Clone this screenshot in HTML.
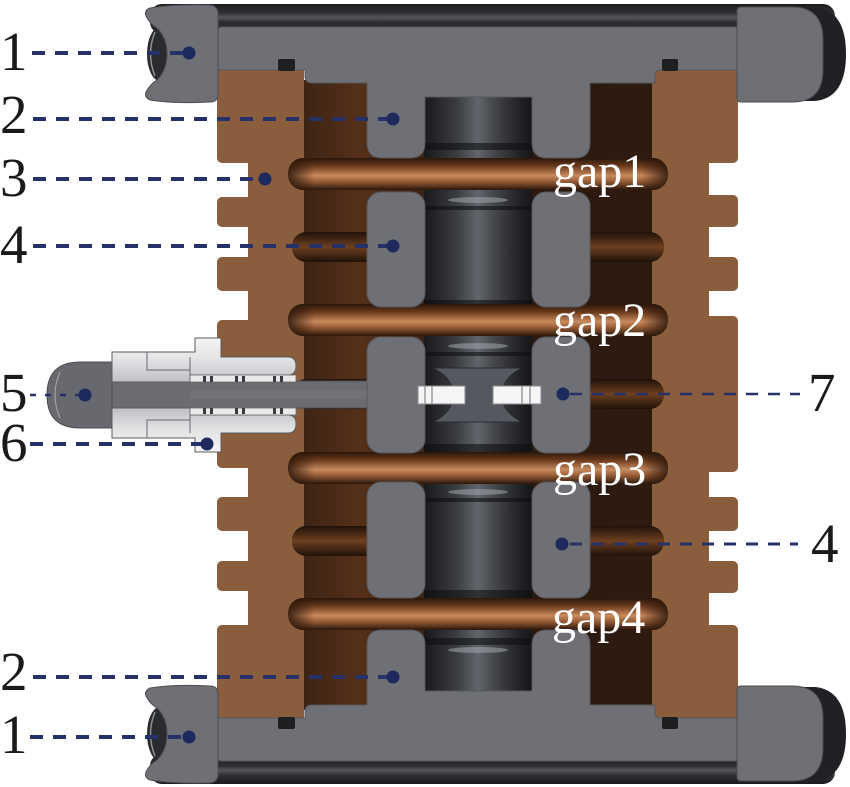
<!DOCTYPE html>
<html><head><meta charset="utf-8"><style>
html,body{margin:0;padding:0;background:#fff;}
svg{display:block;}
</style></head><body>
<svg width="850" height="787" viewBox="0 0 850 787" xmlns="http://www.w3.org/2000/svg">
<defs>
 <linearGradient id="cav" x1="0" y1="0" x2="1" y2="0">
  <stop offset="0" stop-color="#3b2214"/><stop offset="0.17" stop-color="#553019"/>
  <stop offset="0.5" stop-color="#2a180e"/><stop offset="1" stop-color="#2e1b10"/>
 </linearGradient>
 <linearGradient id="cu" x1="0" y1="0" x2="0" y2="1">
  <stop offset="0" stop-color="#2a160b"/><stop offset="0.25" stop-color="#6a3a1c"/>
  <stop offset="0.55" stop-color="#c98a5e"/><stop offset="0.72" stop-color="#9a6038"/>
  <stop offset="1" stop-color="#2a160b"/>
 </linearGradient>
 <linearGradient id="cu2" x1="0" y1="0" x2="0" y2="1">
  <stop offset="0" stop-color="#1f1108"/><stop offset="0.5" stop-color="#6e3f20"/>
  <stop offset="1" stop-color="#1f1108"/>
 </linearGradient>
 <linearGradient id="cuend" x1="0" y1="0" x2="1" y2="0">
  <stop offset="0" stop-color="#2a160b" stop-opacity="0.85"/><stop offset="0.07" stop-color="#2a160b" stop-opacity="0"/>
  <stop offset="0.93" stop-color="#2a160b" stop-opacity="0"/><stop offset="1" stop-color="#2a160b" stop-opacity="0.85"/>
 </linearGradient>
 <linearGradient id="cyl" x1="0" y1="0" x2="1" y2="0">
  <stop offset="0" stop-color="#18191b"/><stop offset="0.3" stop-color="#3a3c40"/>
  <stop offset="0.5" stop-color="#62656b"/><stop offset="0.62" stop-color="#4a4c51"/>
  <stop offset="0.85" stop-color="#26272a"/><stop offset="1" stop-color="#151618"/>
 </linearGradient>
 <linearGradient id="strip" x1="0" y1="0" x2="0" y2="1">
  <stop offset="0" stop-color="#1a1b1d"/><stop offset="0.3" stop-color="#2f3134"/>
  <stop offset="0.45" stop-color="#55575b"/><stop offset="0.6" stop-color="#2f3033"/>
  <stop offset="1" stop-color="#1a1b1d"/>
 </linearGradient>
 <linearGradient id="silver" x1="0" y1="0" x2="0" y2="1">
  <stop offset="0" stop-color="#f4f4f5"/><stop offset="0.5" stop-color="#e2e3e5"/>
  <stop offset="1" stop-color="#bfc0c3"/>
 </linearGradient>
 <linearGradient id="silver2" x1="0" y1="1" x2="0" y2="0">
  <stop offset="0" stop-color="#f4f4f5"/><stop offset="0.5" stop-color="#e2e3e5"/>
  <stop offset="1" stop-color="#bfc0c3"/>
 </linearGradient>
</defs>

<!-- cavity -->
<rect x="298" y="80" width="360" height="630" fill="url(#cav)"/>

<!-- brown left column -->
<g fill="#8a5e3c">
 <rect x="248" y="66" width="56" height="657"/>
 <rect x="217" y="66" width="40" height="97" rx="5"/>
 <rect x="217" y="197" width="40" height="30" rx="5"/>
 <rect x="217" y="257" width="40" height="34" rx="5"/>
 <rect x="217" y="320" width="40" height="148" rx="5"/>
 <rect x="217" y="497" width="40" height="34" rx="5"/>
 <rect x="217" y="561" width="40" height="30" rx="5"/>
 <rect x="217" y="625" width="40" height="98" rx="5"/>
</g>
<!-- brown right column -->
<g fill="#8a5e3c">
 <rect x="652" y="66" width="57" height="657"/>
 <rect x="698" y="66" width="40" height="97" rx="5"/>
 <rect x="698" y="195" width="40" height="32" rx="5"/>
 <rect x="698" y="257" width="40" height="34" rx="5"/>
 <rect x="698" y="316" width="40" height="156" rx="5"/>
 <rect x="698" y="497" width="40" height="34" rx="5"/>
 <rect x="698" y="561" width="40" height="32" rx="5"/>
 <rect x="698" y="625" width="40" height="98" rx="5"/>
</g>

<!-- back coils -->
<g>
 <rect x="292" y="232" width="372" height="30" rx="14" fill="url(#cu2)"/>
 <rect x="292" y="379" width="372" height="30" rx="14" fill="url(#cu2)"/>
 <rect x="292" y="526" width="372" height="30" rx="14" fill="url(#cu2)"/>
</g>

<!-- center cylinders -->
<g fill="url(#cyl)">
 <rect x="424" y="95" width="108" height="63"/>
 <rect x="424" y="188" width="108" height="124"/>
 <rect x="424" y="334" width="108" height="122"/>
 <rect x="424" y="480" width="108" height="122"/>
 <rect x="424" y="628" width="108" height="65"/>
</g>
<g fill="#0e0f10" opacity="0.6">
 <rect x="424" y="143" width="108" height="7"/>
 <rect x="424" y="206" width="108" height="4"/><rect x="424" y="300" width="108" height="8"/>
 <rect x="424" y="352" width="108" height="4"/><rect x="424" y="444" width="108" height="8"/>
 <rect x="424" y="498" width="108" height="4"/><rect x="424" y="590" width="108" height="8"/>
 <rect x="424" y="638" width="108" height="7"/>
</g>
<g fill="#a3a6ab" opacity="0.55">
 <ellipse cx="478" cy="200" rx="30" ry="3"/>
 <ellipse cx="478" cy="346" rx="30" ry="3"/>
 <ellipse cx="478" cy="492" rx="30" ry="3"/>
 <ellipse cx="478" cy="650" rx="30" ry="3"/>
</g>

<!-- front coils -->
<g>
 <rect x="288" y="158" width="380" height="32" rx="15" fill="url(#cu)"/>
 <rect x="288" y="158" width="380" height="32" rx="15" fill="url(#cuend)"/>
 <rect x="288" y="304" width="380" height="32" rx="15" fill="url(#cu)"/>
 <rect x="288" y="304" width="380" height="32" rx="15" fill="url(#cuend)"/>
 <rect x="288" y="452" width="380" height="32" rx="15" fill="url(#cu)"/>
 <rect x="288" y="452" width="380" height="32" rx="15" fill="url(#cuend)"/>
 <rect x="288" y="598" width="380" height="32" rx="15" fill="url(#cu)"/>
 <rect x="288" y="598" width="380" height="32" rx="15" fill="url(#cuend)"/>
</g>

<!-- rod (5) behind lug -->
<rect x="100" y="381" width="267" height="27" fill="#6a6c71" stroke="#4d4e52" stroke-width="1"/>
<rect x="190" y="390" width="177" height="9" fill="#75777c" opacity="0.6"/>

<!-- electrode lugs -->
<g fill="#6e7075" stroke="#55575c" stroke-width="1">
 <rect x="367" y="192" width="58" height="115" rx="14"/>
 <rect x="532" y="192" width="58" height="115" rx="14"/>
 <rect x="367" y="337" width="58" height="116" rx="14"/>
 <rect x="532" y="337" width="58" height="116" rx="14"/>
 <rect x="367" y="482" width="58" height="116" rx="14"/>
 <rect x="532" y="482" width="58" height="116" rx="14"/>
</g>

<!-- top assembly -->
<g>
 <rect x="150" y="4" width="685" height="30" rx="12" fill="url(#strip)"/>
 <path d="M790,7 H815 Q846,10 846,54 Q846,98 815,101 H790 Z" fill="#202124"/>
 <path d="M222,27 H738 V70 H660 Q655,70 655,76 V83 H590 V143 Q590,158 575,158 H547 Q532,158 532,143 V97 H425 V143 Q425,158 410,158 H382 Q367,158 367,143 V83 H312 Q305,83 305,76 V70 H217 V32 Q217,27 222,27 Z" fill="#6e7075" stroke="#55575c" stroke-width="1"/>
 <ellipse cx="160" cy="54" rx="13" ry="27" fill="#2a2b2e"/>
 <path d="M155,32 Q146,54 155,76" fill="none" stroke="#8e9196" stroke-width="1.5"/>
 <path d="M150,8 Q175,4 210,5 Q218,6 218,14 V94 Q218,102 210,102 Q175,104 150,100 Q144,97 146,92 Q150,84 157,80 Q167,70 167,54 Q167,38 157,28 Q150,24 146,16 Q144,10 150,8 Z" fill="#6e7075" stroke="#4c4d51" stroke-width="1"/>
 <path d="M741,7 H792 Q823,7 823,40 V70 Q823,102 792,102 H741 Q737,102 737,98 V11 Q737,7 741,7 Z" fill="#6e7075" stroke="#4c4d51" stroke-width="1"/>
 <rect x="278" y="59" width="17" height="12" rx="2" fill="#1e1f21"/>
 <rect x="662" y="59" width="16" height="12" rx="2" fill="#1e1f21"/>
</g>
<!-- bottom assembly (mirror) -->
<g transform="matrix(1 0 0 -1 0 788)">
 <rect x="150" y="4" width="685" height="30" rx="12" fill="url(#strip)"/>
 <path d="M790,7 H815 Q846,10 846,54 Q846,98 815,101 H790 Z" fill="#202124"/>
 <path d="M222,27 H738 V70 H660 Q655,70 655,76 V83 H590 V143 Q590,158 575,158 H547 Q532,158 532,143 V97 H425 V143 Q425,158 410,158 H382 Q367,158 367,143 V83 H312 Q305,83 305,76 V70 H217 V32 Q217,27 222,27 Z" fill="#6e7075" stroke="#55575c" stroke-width="1"/>
 <ellipse cx="160" cy="54" rx="13" ry="27" fill="#2a2b2e"/>
 <path d="M155,32 Q146,54 155,76" fill="none" stroke="#8e9196" stroke-width="1.5"/>
 <path d="M150,8 Q175,4 210,5 Q218,6 218,14 V94 Q218,102 210,102 Q175,104 150,100 Q144,97 146,92 Q150,84 157,80 Q167,70 167,54 Q167,38 157,28 Q150,24 146,16 Q144,10 150,8 Z" fill="#6e7075" stroke="#4c4d51" stroke-width="1"/>
 <path d="M741,7 H792 Q823,7 823,40 V70 Q823,102 792,102 H741 Q737,102 737,98 V11 Q737,7 741,7 Z" fill="#6e7075" stroke="#4c4d51" stroke-width="1"/>
 <rect x="278" y="59" width="17" height="12" rx="2" fill="#1e1f21"/>
 <rect x="662" y="59" width="16" height="12" rx="2" fill="#1e1f21"/>
</g>

<!-- cap of rod -->
<path d="M112,362 H80 Q47,362 47,395 Q47,428 80,428 H112 Z" fill="#67696e" stroke="#4d4e52" stroke-width="1"/>
<path d="M60,372 Q50,395 60,418" fill="none" stroke="#a0a2a6" stroke-width="1.2"/>

<!-- fitting (6) -->
<path d="M112,352 H195 V338 H221 V357 H288 Q296,357 296,366 Q296,375 288,375 H190 V382 H112 Z" fill="url(#silver)" stroke="#5c5d60" stroke-width="1"/>
<path d="M112,438 H195 V452 H221 V433 H288 Q296,433 296,424 Q296,415 288,415 H190 V408 H112 Z" fill="url(#silver2)" stroke="#5c5d60" stroke-width="1"/>
<g stroke="#6a6b6e" stroke-width="1" fill="none">
 <path d="M147,352 V370 H190"/><path d="M147,438 V420 H190"/>
 <path d="M190,357 V375"/><path d="M190,415 V433"/>
</g>
<rect x="190" y="375" width="106" height="7" fill="#e9e9ea" stroke="#6a6b6e" stroke-width="0.8"/>
<rect x="190" y="408" width="106" height="7" fill="#e9e9ea" stroke="#6a6b6e" stroke-width="0.8"/>
<g fill="#3a3b3e">
 <rect x="203" y="376" width="3" height="6"/><rect x="210" y="376" width="3" height="6"/>
 <rect x="235" y="376" width="3" height="6"/><rect x="242" y="376" width="3" height="6"/>
 <rect x="273" y="376" width="3" height="6"/><rect x="280" y="376" width="3" height="6"/>
 <rect x="203" y="408" width="3" height="6"/><rect x="210" y="408" width="3" height="6"/>
 <rect x="235" y="408" width="3" height="6"/><rect x="242" y="408" width="3" height="6"/>
 <rect x="273" y="408" width="3" height="6"/><rect x="280" y="408" width="3" height="6"/>
</g>

<!-- trigger (7) -->
<path d="M433,368 H522 Q502,378 502,395 Q502,412 522,422 H433 Q453,412 453,395 Q453,378 433,368 Z" fill="#55585e" stroke="#2a2b2e" stroke-width="1"/>
<rect x="418" y="386" width="47" height="18" fill="#f5f5f5" stroke="#8a8b8e" stroke-width="1"/>
<rect x="493" y="386" width="48" height="18" fill="#f5f5f5" stroke="#8a8b8e" stroke-width="1"/>
<g stroke="#9a9b9e" stroke-width="1.5">
 <line x1="425" y1="386" x2="425" y2="404"/><line x1="432" y1="386" x2="432" y2="404"/>
 <line x1="522" y1="386" x2="522" y2="404"/><line x1="530" y1="386" x2="530" y2="404"/>
</g>

<!-- leader lines -->
<g stroke="#26316a" fill="none" stroke-width="4" stroke-dasharray="13 10">
 <line x1="32" y1="53" x2="183" y2="53"/>
 <line x1="33" y1="119" x2="387" y2="119"/>
 <line x1="33" y1="179" x2="259" y2="179"/>
 <line x1="33" y1="246" x2="387" y2="246"/>
 <line x1="30" y1="444" x2="201" y2="444"/>
 <line x1="33" y1="677" x2="387" y2="677"/>
 <line x1="30" y1="737" x2="183" y2="737"/>
</g>
<g stroke="#26316a" fill="none" stroke-width="2.5" stroke-dasharray="12 10">
 <line x1="30" y1="395" x2="80" y2="395" stroke-dasharray="6 9"/>
 <line x1="570" y1="394" x2="800" y2="394"/>
 <line x1="570" y1="544" x2="798" y2="544" stroke-width="3"/>
</g>
<g fill="#1e2a5e">
 <circle cx="189" cy="53" r="6.5"/>
 <circle cx="393" cy="119" r="6.5"/>
 <circle cx="265" cy="179" r="6.5"/>
 <circle cx="393" cy="246" r="6.5"/>
 <circle cx="85" cy="395" r="6.5"/>
 <circle cx="207" cy="444" r="6.5"/>
 <circle cx="393" cy="677" r="6.5"/>
 <circle cx="189" cy="737" r="6.5"/>
 <circle cx="563" cy="394" r="6.5"/>
 <circle cx="562" cy="544" r="6.5"/>
</g>

<!-- labels -->
<g font-family="'Liberation Serif', serif" font-size="55" fill="#1a1a1a">
 <text x="0" y="70">1</text>
 <text x="0" y="133">2</text>
 <text x="0" y="196">3</text>
 <text x="0" y="263">4</text>
 <text x="0" y="411">5</text>
 <text x="0" y="461">6</text>
 <text x="0" y="690">2</text>
 <text x="0" y="753">1</text>
 <text x="808" y="411">7</text>
 <text x="811" y="562">4</text>
</g>
<g font-family="'Liberation Serif', serif" font-size="48" fill="#ffffff">
 <text x="553" y="187">gap1</text>
 <text x="553" y="336">gap2</text>
 <text x="553" y="485">gap3</text>
 <text x="552" y="633">gap4</text>
</g>
</svg>
</body></html>
